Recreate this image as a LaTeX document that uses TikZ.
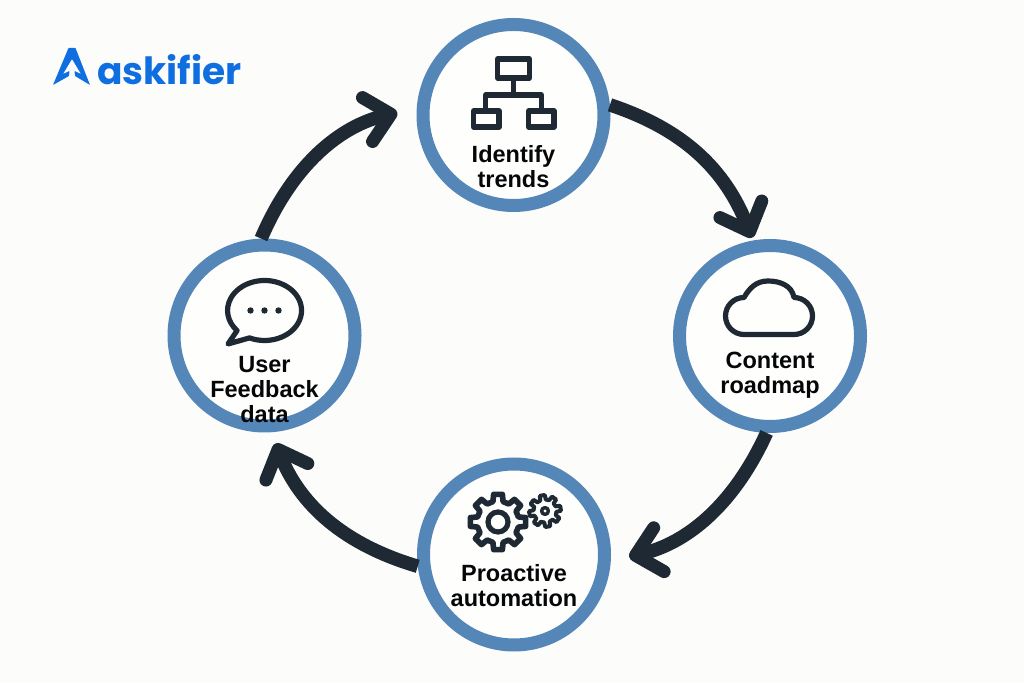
\documentclass[tikz,border=0pt]{standalone}
\usepackage{fontspec}
\setmainfont{Liberation Sans}
\newfontfamily\logofont{Poppins}
\usetikzlibrary{arrows.meta}

\definecolor{ringblue}{HTML}{5486B8}
\definecolor{inkdark}{HTML}{1F2933}
\definecolor{logoblue}{HTML}{0F6FE0}
\definecolor{pagewhite}{HTML}{FCFCFB}

\tikzset{
  ringnode/.style={circle, draw=ringblue, line width=13pt, fill=white!60!pagewhite,
    minimum size=181pt, inner sep=0pt},
  steplabel/.style={align=center, text=black!85!inkdark, inner sep=0pt,
    font=\fontsize{23.5}{25}\selectfont\bfseries},
  iconline/.style={draw=inkdark, line width=5.2pt, line join=round, line cap=round},
  flowarrow/.style={draw=inkdark, line width=13.5pt,
    -{Straight Barb[length=24pt, width=45pt, line width=13pt, round]}},
}

\newcommand{\gearicon}[5]{% rotation, outer and inner radius, half tooth width, stroke
  \draw[iconline, line width=#5, rotate=#1] (90-#4:#2)
    \foreach \a in {0,45,...,315} {
      -- ({90+\a-#4}:#2) -- ({90+\a+#4}:#2)
      -- ({90+\a+#4+5}:#3) -- ({90+\a+45-#4-5}:#3)
    } -- cycle;
}

\begin{document}
\begin{tikzpicture}[x=1pt, y=1pt]
  \useasboundingbox[fill=pagewhite] (0,0) rectangle (1024,682);

  % logo
  \fill[logoblue, rounded corners=0.6pt] (68.5,634) -- (75.5,634) -- (90,597) -- (75,606) -- (74.5,611) -- (81,608)
    -- (72,623) -- (63,608) -- (69.5,611) -- (69,606) -- (53,597) -- cycle;
  \node[anchor=west, inner sep=0pt, text=logoblue, font=\logofont\fontsize{37.5}{37.5}\selectfont\bfseries]
    (logo) at (97,612) {askifier};

  \node[ringnode] (trends) at (513.5,567) {};
  \node[ringnode] (roadmap) at (770,346) {};
  \node[ringnode] (automation) at (514,127.5) {};
  \node[ringnode] (feedback) at (264.5,346.5) {};

  \draw[flowarrow, shorten >=3pt] (trends.6) to[bend left=25] (roadmap.100);
  \draw[flowarrow, shorten >=19pt] (roadmap.-92) to[bend left=26] (automation.-4);
  \draw[flowarrow, shorten >=12pt] (automation.187) to[bend left=26] (feedback.-86);
  \draw[flowarrow, shorten >=20pt] (feedback.92) to[bend left=27] (trends.176);

  % tree icon
  \begin{scope}[shift={(trends.center)}]
    \draw[iconline] (-16,37) rectangle (16,56);
    \draw[iconline] (-40,-12) rectangle (-14.5,4);
    \draw[iconline] (15,-12) rectangle (40.5,4);
    \draw[iconline] (0,37) -- (0,20);
    \draw[iconline] (-28,4) -- (-28,20) -- (28,20) -- (28,4);
  \end{scope}
  \node[steplabel] (trendslabel) at ([yshift=-52pt]trends.center) {Identify\\trends};

  % cloud icon
  \begin{scope}[shift={(roadmap.center)}]
    \draw[iconline] (-26,1.5) -- (24,1.5) arc (-90:90:18.5) to[out=100,in=0] (-2,55)
      to[out=180,in=60] (-26,38.5) arc (90:270:18.5) -- cycle;
  \end{scope}
  \node[steplabel] (roadmaplabel) at ([yshift=-39pt]roadmap.center) {Content\\roadmap};

  % gears
  \begin{scope}[shift={(automation.center)}]
    \begin{scope}[shift={(-16,32.5)}]
      \gearicon{0}{28}{21}{9}{5.6pt}
      \draw[iconline] (0,0) circle (10);
    \end{scope}
    \begin{scope}[shift={(31,43.5)}]
      \gearicon{10}{16}{11.5}{9}{4pt}
      \draw[iconline, line width=3.4pt] (0,0) circle (3.4);
    \end{scope}
  \end{scope}
  \node[steplabel] (automationlabel) at ([yshift=-31pt]automation.center) {Proactive\\automation};

  % speech bubble
  \begin{scope}[shift={(feedback.center)}]
    \draw[iconline] (-15,-2.4) arc (246:582:37 and 30) -- (-36.5,-8.5) -- cycle;
    \foreach \x in {-14,0,14}
      \fill[inkdark] (\x,25) circle (3.2);
  \end{scope}
  \node[steplabel] (feedbacklabel) at ([yshift=-54pt]feedback.center) {User\\Feedback\\data};
\end{tikzpicture}
\end{document}
